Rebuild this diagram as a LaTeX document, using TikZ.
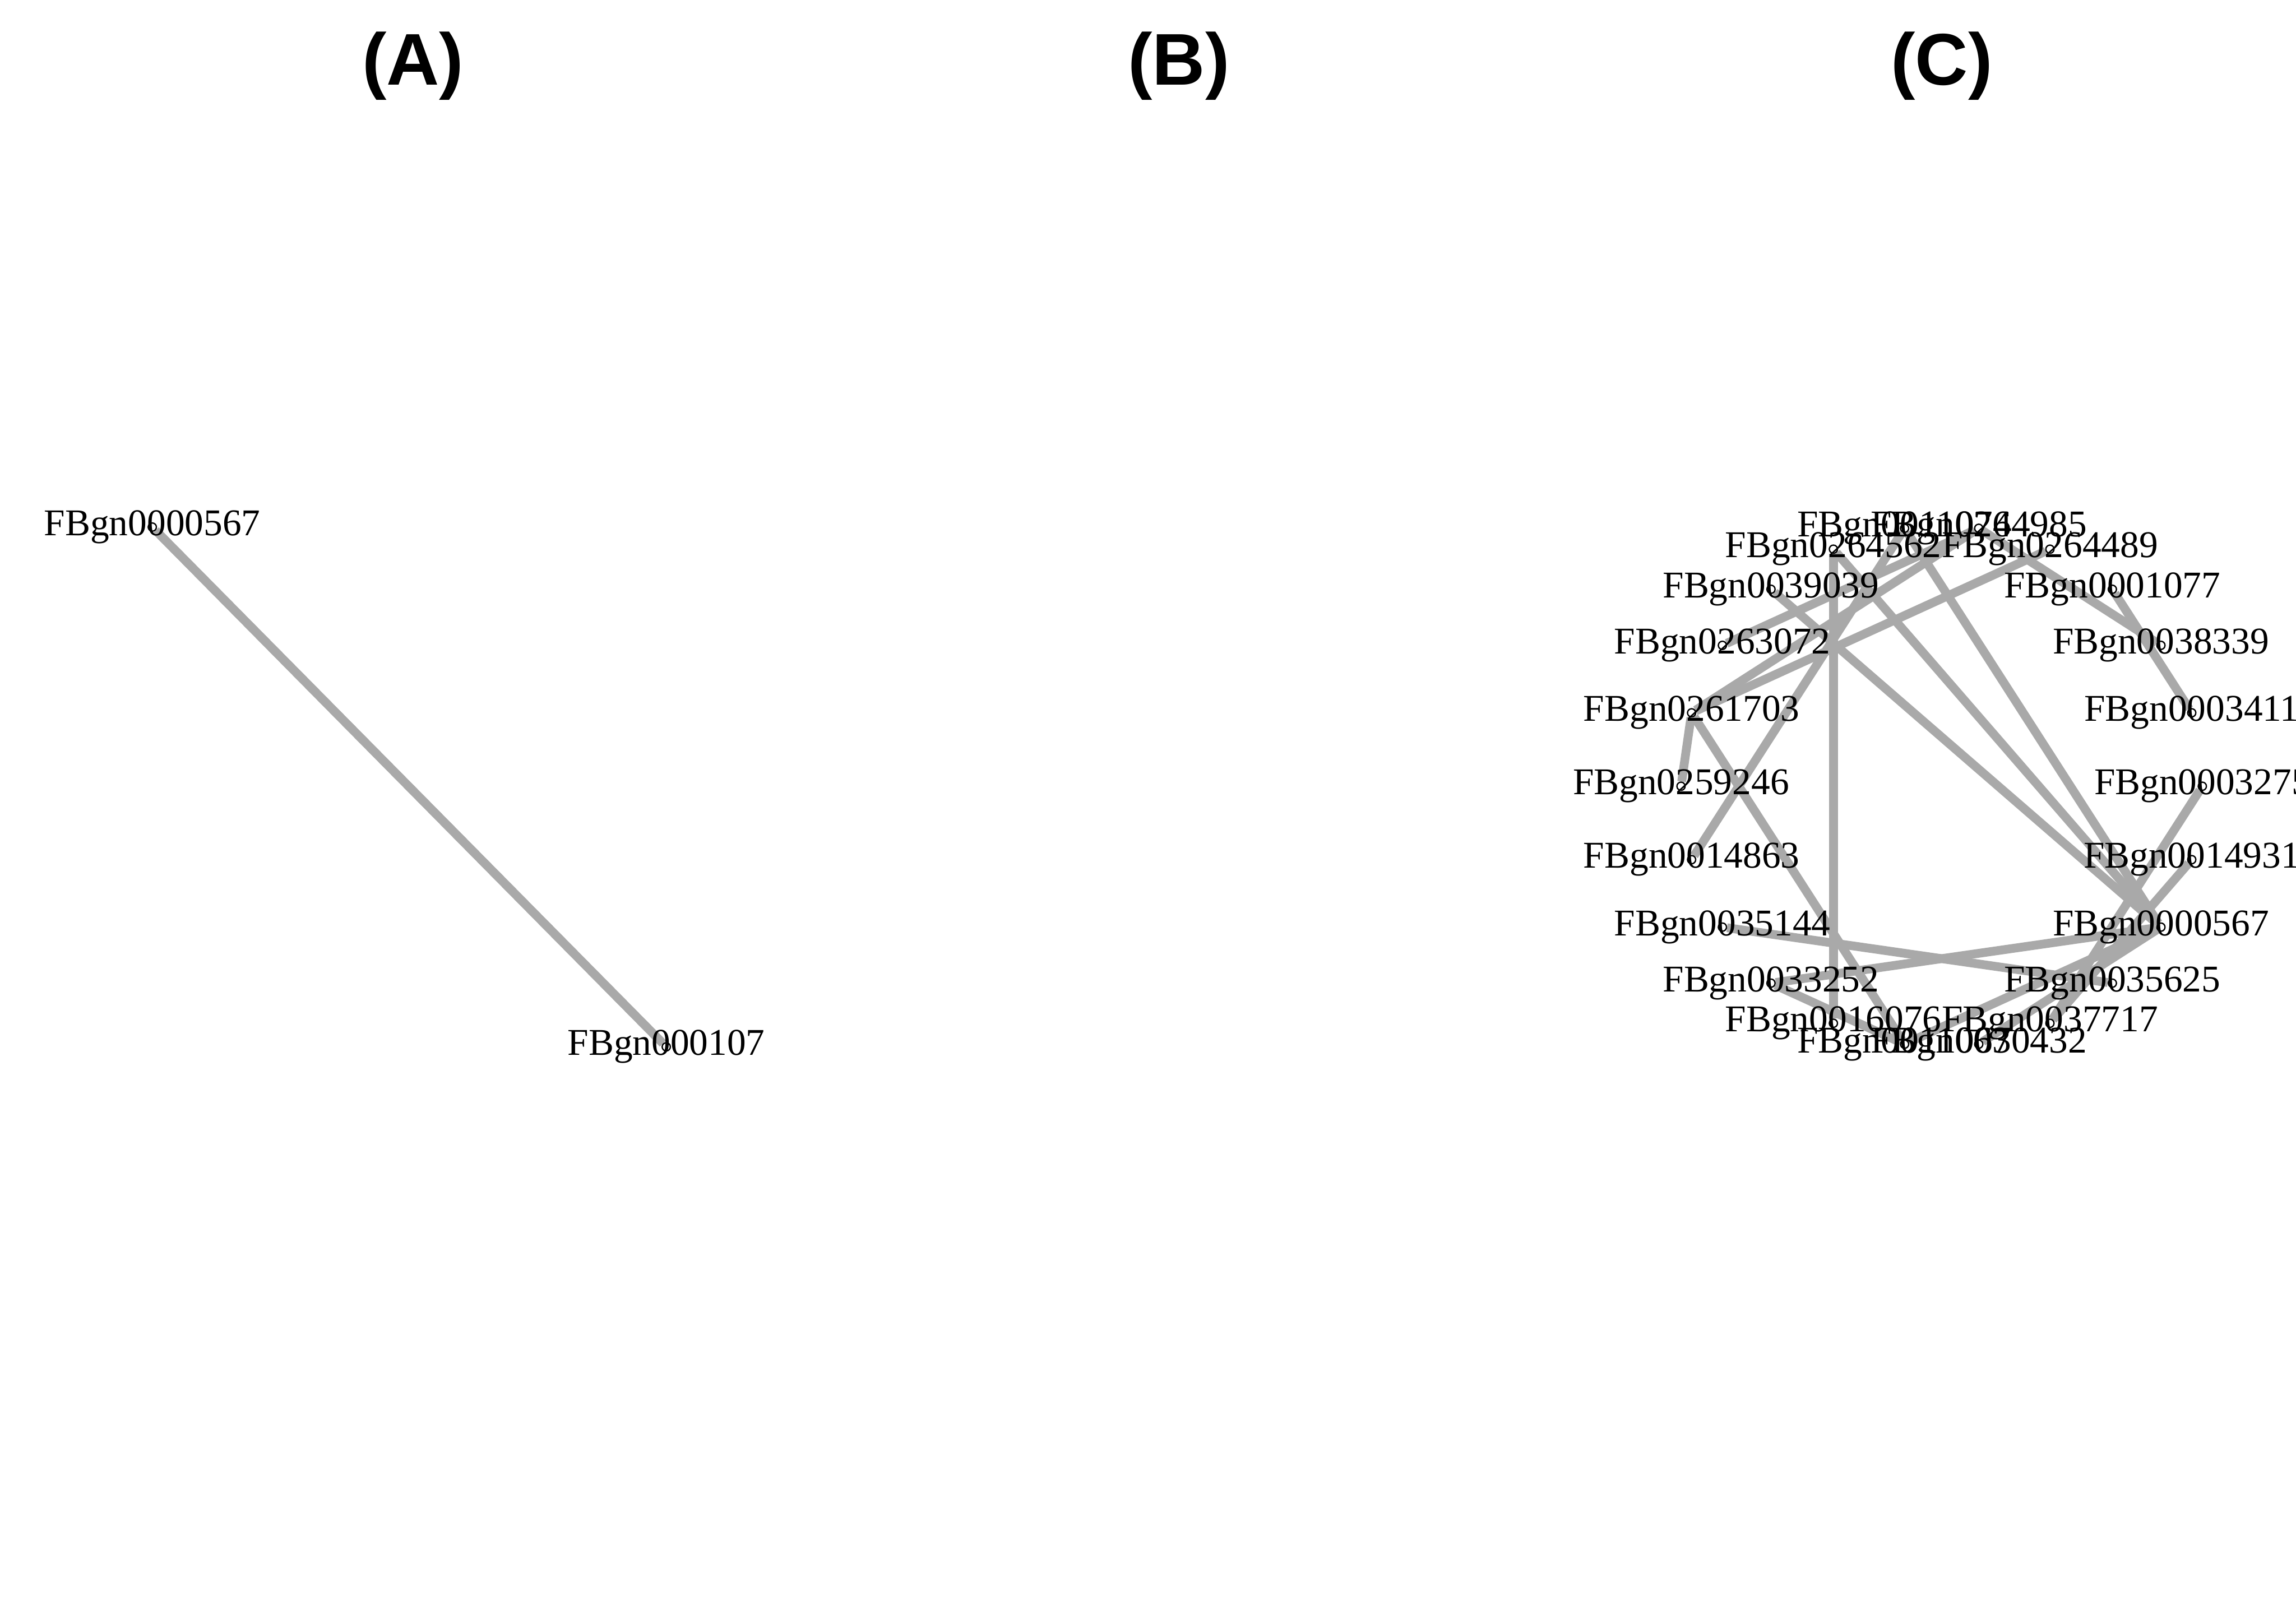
\documentclass[tikz,border=0pt]{standalone}
\usepackage{fontspec}
\setmainfont{Liberation Serif}
\newfontfamily\titlefont{Liberation Sans}
\usepackage{tikz}
\definecolor{cEdge}{HTML}{A9A9A9}
\pgfdeclarelayer{background}
\pgfsetlayers{background,main}
\tikzset{
  edge/.style   ={cEdge,line width=3pt},
  vertex/.style ={circle,draw=black,line width=0.45pt,inner sep=0pt,minimum size=2.8pt},
  gene/.style   ={inner sep=0pt,font=\fontsize{12.9}{15}\selectfont},
  panel/.style  ={inner sep=0pt,font=\titlefont\bfseries\fontsize{25}{29}\selectfont},
}

\begin{document}
\begin{tikzpicture}[x=0.5pt,y=-0.5pt]
  \useasboundingbox (0,0) rectangle (1568,1098);
  \begin{pgfonlayer}{background}
    \fill[white] (0,0) rectangle (1568,1098);
  \end{pgfonlayer}
  % panel titles
  \node[panel] (tA) at (282,45) {(A)};
  \node[panel] (tB) at (805,45) {(B)};
  \node[panel] (tC) at (1326,45) {(C)};
  % (A) two genes
  \node[vertex] (a1) at (104,360) {};
  \node[vertex] (a2) at (455,715) {};
  \node[gene] (a1-l) at (a1) {FBgn0000567};
  \node[gene] (a2-l) at (a2) {FBgn000107};
  \begin{pgfonlayer}{background}
    \draw[edge] (a1) -- (a2);
  \end{pgfonlayer}
  % (C) circle layout, 22 genes
  \foreach \g [count=\i from 0] in {FBgn0003275,FBgn0003411,FBgn0038339,FBgn0001077,
      FBgn0264489,FBgn0264985,FBgn0011074,FBgn0264562,FBgn0039039,FBgn0263072,
      FBgn0261703,FBgn0259246,FBgn0014863,FBgn0035144,FBgn0033252,FBgn0016076,
      FBgn0011067,FBgn0030432,FBgn0037717,FBgn0035625,FBgn0000567,FBgn0014931}{
    \node[vertex] (c\i) at ({1326+178*cos(\i*360/22)},{537-178*sin(\i*360/22)}) {};
    \node[gene] (c\i-l) at (c\i) {\g};
  }
  \begin{pgfonlayer}{background}
    \foreach \u/\v in {7/15,8/20,7/20,6/20,12/6,10/4,10/5,9/5,10/11,10/16,
        13/19,14/20,14/16,0/18,21/18,5/2,3/1,16/20,17/20}
      \draw[edge] (c\u) -- (c\v);
  \end{pgfonlayer}
\end{tikzpicture}
\end{document}
